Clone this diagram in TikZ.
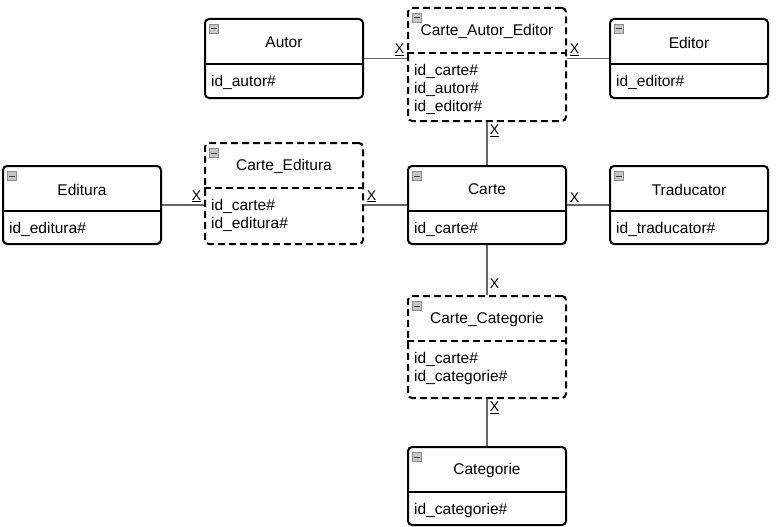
\documentclass[tikz,border=0pt]{standalone}
\usepackage{fontspec}
\setmainfont{Liberation Sans}
\begin{document}
\begin{tikzpicture}[x=1pt,y=-1pt,font=\fontsize{15.5}{18}\selectfont,
	khung/.style={draw,line width=2pt,rounded corners=4pt,minimum width=158pt,inner sep=0pt},
	net/.style={dash pattern=on 7pt off 4pt},
	nut/.style={draw=black!45,fill=black!22,line width=0.6pt,minimum size=9pt,inner sep=0pt,
		path picture={\draw[black!75,line width=1pt] ([xshift=-3pt]path picture bounding box.center)--([xshift=3pt]path picture bounding box.center);}},
	thuoctinh/.style={align=left,anchor=north west,inner sep=0pt},
	noi/.style={draw=black!60,line width=1.5pt},
	kyhieu/.style={font=\fontsize{14}{16}\selectfont,inner sep=2pt}]
	\useasboundingbox (0,0) rectangle (776,527);
	\def\w{158}%Chiều rộng bảng
	\def\hd{46}%Chiều cao tiêu đề
	\def\bang[#1](#2,#3)#4#5#6#7{
		\node[khung,#1,minimum height={\hd+#5}] (#4) at ({#2+\w/2},{#3+(\hd+#5)/2}) {};
		\draw[line width=2pt,#1] ([yshift=-\hd]#4.north west)--([yshift=-\hd]#4.north east);
		\node[nut] (#4-i) at ([xshift=10pt,yshift=-11pt]#4.north west) {};
		\node (#4-t) at ([yshift=-\hd/2-1.5]#4.north) {#6};
		\node[thuoctinh] (#4-n) at ([xshift=7pt,yshift=-\hd-11.5]#4.north west) {#7};
	}
	\bang[](205,19){autor}{33}{Autor}{id\_autor\#}
	\bang[net](408,8){cae}{67}{Carte\_Autor\_Editor}{id\_carte\#\\id\_autor\#\\id\_editor\#}
	\bang[](610,19){editor}{33}{Editor}{id\_editor\#}
	\bang[](3,166){editura}{32}{Editura}{id\_editura\#}
	\bang[net](205,143){ce}{55}{Carte\_Editura}{id\_carte\#\\id\_editura\#}
	\bang[](408,166){carte}{32}{Carte}{id\_carte\#}
	\bang[](610,166){traducator}{32}{Traducator}{id\_traducator\#}
	\bang[net](408,296){cc}{56}{Carte\_Categorie}{id\_carte\#\\id\_categorie\#}
	\bang[](408,447){categorie}{32}{Categorie}{id\_categorie\#}
	%Đường nối
	\draw[noi] (autor.east)--node[kyhieu,pos=1,anchor=south east] (x1) {\underline{X}} (autor.east -| cae.west);
	\draw[noi] (editor.west)--node[kyhieu,pos=1,anchor=south west] (x2) {\underline{X}} (editor.west -| cae.east);
	\draw[noi] (cae.south)--node[kyhieu,pos=0,anchor=north west] (x3) {\underline{X}} (carte.north);
	\draw[noi] (editura.east)--node[kyhieu,pos=1,anchor=south east] (x4) {\underline{X}} (editura.east -| ce.west);
	\draw[noi] (carte.west)--node[kyhieu,pos=1,anchor=south west] (x5) {\underline{X}} (carte.west -| ce.east);
	\draw[noi] (carte.east)--node[kyhieu,pos=0,anchor=south west] (x6) {X} (traducator.west);
	\draw[noi] (carte.south)--node[kyhieu,pos=1,anchor=south west,yshift=4pt] (x7) {X} (cc.north);
	\draw[noi] (cc.south)--node[kyhieu,pos=0,anchor=north west] (x8) {\underline{X}} (categorie.north);
\end{tikzpicture}
\end{document}
